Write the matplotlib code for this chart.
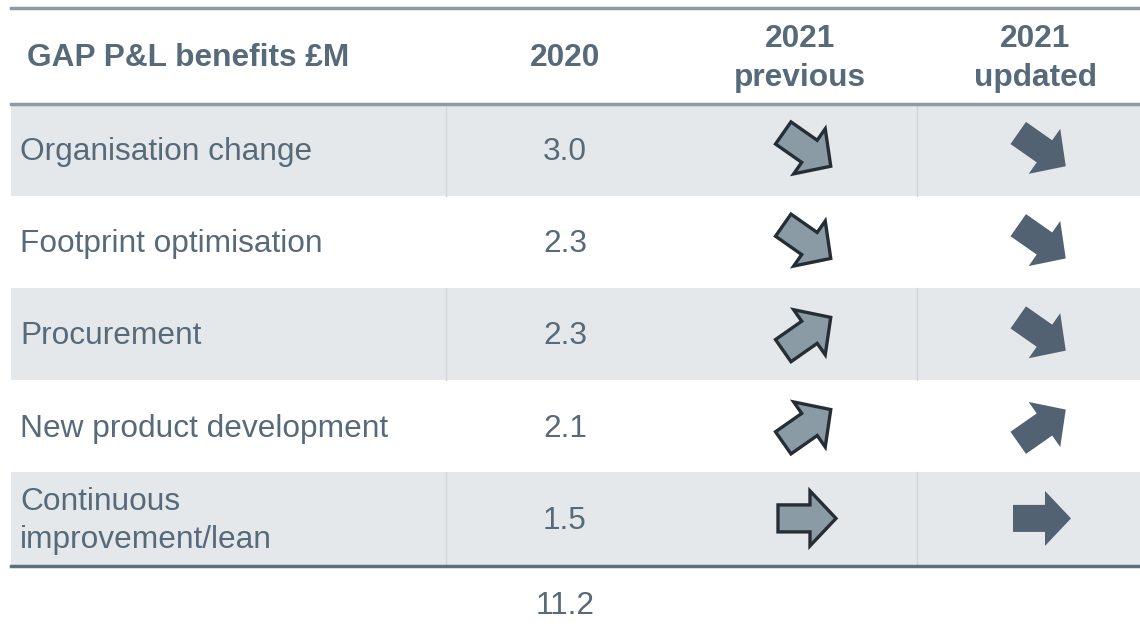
import numpy as np
import matplotlib
matplotlib.use("Agg")
import matplotlib.pyplot as plt
from matplotlib.patches import Polygon, Rectangle

# table content
header = ["GAP P&L benefits £M", "2020", "2021\nprevious", "2021\nupdated"]
categories = ["Organisation change", "Footprint optimisation", "Procurement",
              "New product development", "Continuous\nimprovement/lean"]
values_2020 = [3.0, 2.3, 2.3, 2.1, 1.5]
# arrow angle in degrees: negative = down, positive = up, 0 = flat
trend_previous = [-35, -35, 35, 35, 0]
trend_updated = [-35, -35, -35, 35, 0]
total_2020 = 11.2

txt_col = "#566a7a"
grey_row = "#e5e8eb"
prev_fill = "#8a9ba5"
prev_edge = "#262e35"
upd_fill = "#526272"

plt.rcParams['font.family'] = ['Liberation Sans', 'DejaVu Sans']

fig = plt.figure(figsize=(11.4, 6.34), dpi=100)
ax = fig.add_axes([0, 0, 1, 1])
ax.set_xlim(0, 1140)
ax.set_ylim(634, 0)
ax.axis("off")

x0, x1 = 11, 1140
head_top, head_bot = 8, 103.5
row_h = 92.2
col_div = [446, 917]
col_x = [20, 565, 807, 1042]
dy = 2.5  # text baseline nudge


def arrow(cx, cy, ang, fill, edge=None, lw=0):
    # block arrow pointing right, rotated by ang (y axis points down)
    pts = np.array([[-29, -13.5], [3, -13.5], [3, -27.5], [29, 0],
                    [3, 27.5], [3, 13.5], [-29, 13.5]])
    a = np.deg2rad(ang)
    xy = np.column_stack([pts[:, 0] * np.cos(a) + pts[:, 1] * np.sin(a),
                          -pts[:, 0] * np.sin(a) + pts[:, 1] * np.cos(a)])
    xy[:, 0] += cx
    xy[:, 1] += cy
    ax.add_patch(Polygon(xy, closed=True, facecolor=fill,
                         edgecolor=edge if edge else fill, linewidth=lw,
                         joinstyle="miter", zorder=5))


# rows
for i, cat in enumerate(categories):
    top = head_bot + i * row_h
    cy = top + row_h / 2
    if i % 2 == 0:
        ax.add_patch(Rectangle((x0, top), x1 - x0, row_h, facecolor=grey_row,
                               edgecolor="none", zorder=1))
        for xd in col_div:
            ax.plot([xd, xd], [top, top + row_h], color="#d0d6dc", lw=1, zorder=2)
    ax.text(col_x[0], cy + dy, cat, ha="left", va="center", fontsize=22.8,
            color=txt_col, linespacing=1.38)
    ax.text(col_x[1], cy + dy, "%.1f" % values_2020[i], ha="center",
            va="center", fontsize=22.8, color=txt_col)
    arrow(col_x[2], cy, trend_previous[i], prev_fill, prev_edge, 2.4)
    arrow(col_x[3], cy, trend_updated[i], upd_fill)

# header
hy = 58.5
ax.text(27, hy, header[0], ha="left", va="center", fontsize=22.8,
        fontweight="bold", color=txt_col)
hx = [None, 565, 800, 1035]
for j in range(1, 4):
    ax.text(hx[j], hy, header[j], ha="center", va="center", fontsize=22.8,
            fontweight="bold", color=txt_col, linespacing=1.38)

# rules
ax.plot([x0, x1], [head_top, head_top], color="#8c9ba6", lw=2.5, zorder=3)
ax.plot([x0, x1], [head_bot, head_bot], color="#8c9ba6", lw=2.5, zorder=3)
bot = head_bot + len(categories) * row_h
ax.plot([x0, x1], [bot + 1, bot + 1], color="#5c6e7d", lw=2.5, zorder=3)

ax.text(col_x[1], 603 + dy, "%.1f" % total_2020, ha="center", va="center",
        fontsize=22.8, color=txt_col)

fig.savefig("out.png", dpi=100)
